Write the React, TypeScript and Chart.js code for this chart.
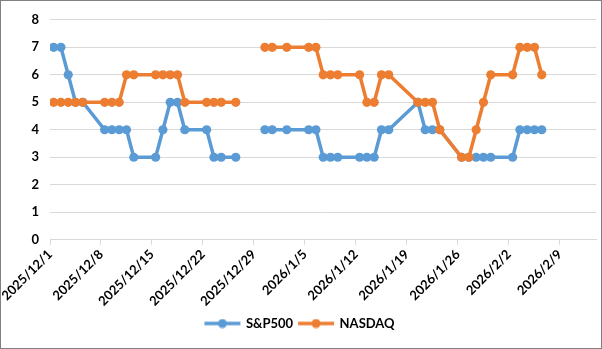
import React, { useEffect, useRef } from "react";
import { Chart, registerables } from "chart.js";

Chart.register(...registerables);

// ---- data ----
const dates: string[] = [
  "2025-12-01", "2025-12-02", "2025-12-03", "2025-12-04", "2025-12-05",
  "2025-12-08", "2025-12-09", "2025-12-10", "2025-12-11", "2025-12-12",
  "2025-12-15", "2025-12-16", "2025-12-17", "2025-12-18", "2025-12-19",
  "2025-12-22", "2025-12-23", "2025-12-24", "2025-12-26",
  "2025-12-29", "2025-12-30", "2025-12-31", "2026-01-02",
  "2026-01-05", "2026-01-06", "2026-01-07", "2026-01-08", "2026-01-09",
  "2026-01-12", "2026-01-13", "2026-01-14", "2026-01-15", "2026-01-16",
  "2026-01-20", "2026-01-21", "2026-01-22", "2026-01-23",
  "2026-01-26", "2026-01-27", "2026-01-28", "2026-01-29", "2026-01-30",
  "2026-02-02", "2026-02-03", "2026-02-04", "2026-02-05", "2026-02-06",
];

const sp500: (number | null)[] = [
  7, 7, 6, 5, 5,
  4, 4, 4, 4, 3,
  3, 4, 5, 5, 4,
  4, 3, 3, 3,
  null, 4, 4, 4,
  4, 4, 3, 3, 3,
  3, 3, 3, 4, 4,
  5, 4, 4, 4,
  3, 3, 3, 3, 3,
  3, 4, 4, 4, 4,
];

const nasdaq: (number | null)[] = [
  5, 5, 5, 5, 5,
  5, 5, 5, 6, 6,
  6, 6, 6, 6, 5,
  5, 5, 5, 5,
  null, 7, 7, 7,
  7, 7, 6, 6, 6,
  6, 5, 5, 6, 6,
  5, 5, 5, 4,
  3, 3, 4, 5, 6,
  6, 7, 7, 7, 6,
];

const tickDates: string[] = [
  "2025-12-01", "2025-12-08", "2025-12-15", "2025-12-22", "2025-12-29",
  "2026-01-05", "2026-01-12", "2026-01-19", "2026-01-26", "2026-02-02",
  "2026-02-09",
];

const axisStart = "2025-12-01";
const axisEnd = "2026-02-14";

const seriesNames = ["S&P500", "NASDAQ"];
const seriesColors = ["#5B9BD5", "#ED7D31"];

// ---- helpers ----
const dayOf = (s: string) => {
  const [y, m, d] = s.split("-").map(Number);
  const [y0, m0, d0] = axisStart.split("-").map(Number);
  return Math.round((Date.UTC(y, m - 1, d) - Date.UTC(y0, m0 - 1, d0)) / 86400000);
};
const fmt = (s: string) => {
  const [y, m, d] = s.split("-").map(Number);
  return `${y}/${m}/${d}`;
};

const FONT = { family: "Lato, 'Liberation Sans', sans-serif", size: 13, weight: "bold" as const };

function legendIcon(color: string) {
  const c = document.createElement("canvas");
  c.width = 38;
  c.height = 10;
  const ctx = c.getContext("2d")!;
  ctx.strokeStyle = color;
  ctx.lineWidth = 3.5;
  ctx.beginPath();
  ctx.moveTo(1, 5);
  ctx.lineTo(37, 5);
  ctx.stroke();
  ctx.fillStyle = color;
  ctx.beginPath();
  ctx.arc(19, 5, 4.5, 0, Math.PI * 2);
  ctx.fill();
  return c;
}

export default function App() {
  const ref = useRef<HTMLCanvasElement | null>(null);

  useEffect(() => {
    if (!ref.current) return;
    const icons = seriesColors.map(legendIcon);
    const series = [sp500, nasdaq];
    const tickDays = tickDates.map(dayOf);
    const tickLabel: Record<number, string> = {};
    tickDates.forEach((t) => (tickLabel[dayOf(t)] = fmt(t)));

    const chart = new Chart(ref.current, {
      type: "line",
      data: {
        datasets: series.map((vals, i) => ({
          label: seriesNames[i],
          data: dates.map((d, j) => ({ x: dayOf(d) + 0.5, y: vals[j] })),
          borderColor: seriesColors[i],
          backgroundColor: seriesColors[i],
          pointBackgroundColor: seriesColors[i],
          pointBorderColor: seriesColors[i],
          pointBorderWidth: 0,
          pointRadius: 4.6,
          borderWidth: 3.5,
          spanGaps: false,
          tension: 0,
          order: i === 0 ? 1 : 0,
        })),
      },
      options: {
        animation: false,
        responsive: false,
        layout: { padding: { top: 12, right: 2, bottom: 8, left: 0 } },
        plugins: {
          tooltip: { enabled: false },
          legend: {
            position: "bottom",
            labels: {
              font: FONT,
              color: "#000",
              usePointStyle: true,
              pointStyleWidth: 34,
              boxHeight: 10,
              padding: 6,
              generateLabels: (ch: any) =>
                Chart.defaults.plugins.legend.labels
                  .generateLabels(ch)
                  .sort((a: any, b: any) => a.datasetIndex - b.datasetIndex)
                  .map((l: any) => ({ ...l, pointStyle: icons[l.datasetIndex] })),
            },
          },
        },
        scales: {
          x: {
            type: "linear",
            min: 0,
            max: dayOf(axisEnd),
            afterBuildTicks: (s: any) => {
              s.ticks = tickDays.map((v) => ({ value: v }));
            },
            ticks: {
              autoSkip: false,
              maxRotation: 45,
              minRotation: 45,
              font: FONT,
              color: "#000",
              padding: 2,
              callback: (v: any) => tickLabel[v] ?? "",
            },
            grid: { drawOnChartArea: false, drawTicks: true, tickLength: 5, color: "#d9d9d9" },
            border: { color: "#d9d9d9" },
          },
          y: {
            min: 0,
            max: 8,
            afterFit: (s: any) => {
              s.width = 49;
            },
            ticks: { stepSize: 1, font: FONT, color: "#000", padding: 11 },
            grid: { color: "#d9d9d9", drawTicks: false },
            border: { display: false },
          },
        },
      },
    });
    return () => chart.destroy();
  }, []);

  return (
    <div
      style={{
        position: "absolute",
        left: 0,
        top: 0,
        width: 602,
        height: 349,
        border: "1px solid #808080",
        boxSizing: "border-box",
        background: "#fff",
      }}
    >
      <canvas ref={ref} width={600} height={347} style={{ display: "block" }} />
    </div>
  );
}
